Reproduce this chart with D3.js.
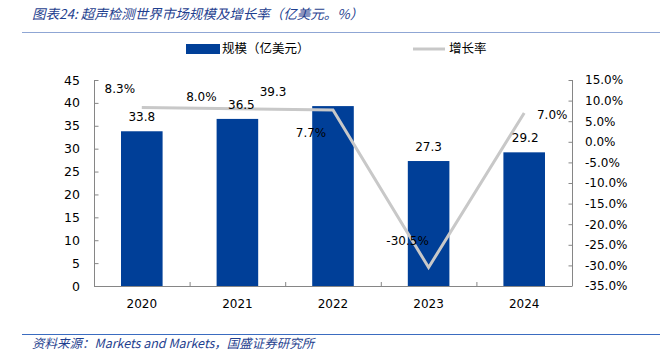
<!DOCTYPE html>
<html><head><meta charset="utf-8">
<script src="https://cdn.jsdelivr.net/npm/d3@7"></script>
<style>body{margin:0;background:#fff}svg{display:block}</style>
</head><body>
<svg id="c" width="660" height="357"></svg>
<script>
const years = ["2020","2021","2022","2023","2024"];
const scale = [33.8, 36.5, 39.3, 27.3, 29.2];
const growth = [8.3, 8.0, 7.7, -30.5, 7.0];
const leftTicks = [0,5,10,15,20,25,30,35,40,45];
const rightTicks = [15,10,5,0,-5,-10,-15,-20,-25,-30,-35];
const seriesNames = ["规模（亿美元）","增长率"];
const title = "图表24:  超声检测世界市场规模及增长率（亿美元。%）";
const source = "资料来源：Markets and Markets，国盛证券研究所";

(function(){
const svg = d3.select("#c");
const font = "'DejaVu Sans', Verdana, sans-serif";
const cjk = "'Noto Sans CJK SC', sans-serif";
const fs = 12;
const pL = 94, pR = 572, pT = 80, pB = 286;
const fmt1 = d3.formatLocale({decimal:".", thousands:",", grouping:[3], currency:["",""], minus:"-"}).format(".1f");

const x = d3.scaleBand().domain(years).range([pL, pR]);
const yL = d3.scaleLinear().domain([0,45]).range([pB, pT]);
const yR = d3.scaleLinear().domain([-35,15]).range([pB, pT]);

// title
svg.append("text").attr("x",32).attr("y",19).attr("font-family",cjk).attr("font-style","italic")
  .attr("font-size",13.5).attr("fill","#1f3f8f").text(title);
svg.append("line").attr("x1",22).attr("x2",660).attr("y1",32.5).attr("y2",32.5).attr("stroke","#8fa6d4").attr("stroke-width",1.2);
svg.append("line").attr("x1",22).attr("x2",660).attr("y1",334.5).attr("y2",334.5).attr("stroke","#3b6cc0").attr("stroke-width",1.2);
svg.append("text").attr("x",32).attr("y",348).attr("font-family",cjk).attr("font-style","italic")
  .attr("font-size",12.5).attr("fill","#1f3f8f").text(source);

// legend
svg.append("rect").attr("x",186).attr("y",44).attr("width",34).attr("height",10).attr("fill","#003f98");
svg.append("text").attr("x",222).attr("y",53).attr("font-family",cjk).attr("font-size",12.5).attr("fill","#000").text(seriesNames[0]);
svg.append("line").attr("x1",413).attr("x2",445).attr("y1",49).attr("y2",49).attr("stroke","#c8c8c8").attr("stroke-width",3);
svg.append("text").attr("x",449).attr("y",53).attr("font-family",cjk).attr("font-size",12.5).attr("fill","#000").text(seriesNames[1]);

// axes
const axL = svg.append("g").attr("transform",`translate(${pL+0.5},0)`)
  .call(d3.axisRight(yL).tickValues(leftTicks).tickSize(4).tickFormat(""));
const axR = svg.append("g").attr("transform",`translate(${pR+0.5},0)`)
  .call(d3.axisLeft(yR).tickValues(rightTicks).tickSize(4).tickFormat(""));
[axL, axR].forEach(a => { a.selectAll("path,line").attr("stroke","#868686"); a.select(".domain").remove();
  a.append("line").attr("x1",0).attr("x2",0).attr("y1",pT).attr("y2",pB).attr("stroke","#868686"); });

svg.append("g").selectAll("text").data(leftTicks).join("text")
  .attr("x",pL-14).attr("y",d=>yL(d)).attr("dy","0.36em").attr("text-anchor","end")
  .attr("font-family",font).attr("font-size",fs+0.5).attr("fill","#000").text(d=>d);
svg.append("g").selectAll("text").data(rightTicks).join("text")
  .attr("x",pR+13).attr("y",d=>yR(d)).attr("dy","0.36em").attr("text-anchor","start")
  .attr("font-family",font).attr("font-size",fs).attr("fill","#000").text(d=>fmt1(d)+"%");

// bottom axis: baseline + ticks at band boundaries
svg.append("line").attr("x1",pL).attr("x2",pR).attr("y1",pB+0.5).attr("y2",pB+0.5).attr("stroke","#868686");
const bounds = years.map(y=>x(y)).concat([pR]);
svg.append("g").selectAll("line").data(bounds).join("line")
  .attr("x1",d=>d+0.5).attr("x2",d=>d+0.5).attr("y1",pB).attr("y2",pB-4).attr("stroke","#868686");
svg.append("g").selectAll("text").data(years).join("text")
  .attr("x",d=>x(d)+x.bandwidth()/2).attr("y",pB+22).attr("text-anchor","middle")
  .attr("font-family",font).attr("font-size",fs).attr("fill","#000").text(d=>d);

// bars
const bw = x.bandwidth()*0.435;
svg.append("g").selectAll("rect").data(years).join("rect")
  .attr("x",(d)=>x(d)+x.bandwidth()/2-bw/2).attr("width",bw)
  .attr("y",(d,i)=>yL(scale[i])).attr("height",(d,i)=>pB-yL(scale[i]))
  .attr("fill","#003f98");

// line
const line = d3.line().x((d,i)=>x(years[i])+x.bandwidth()/2).y(d=>yR(d));
svg.append("path").datum(growth).attr("d",line).attr("fill","none").attr("stroke","#c8c8c8").attr("stroke-width",3);

// bar labels
const barLabelDx = [0, 4, -60, 0, 1];
const barLabelDy = [-10, -10, -10, -10, -10];
svg.append("g").selectAll("text").data(years).join("text")
  .attr("x",(d,i)=>x(d)+x.bandwidth()/2+barLabelDx[i]).attr("y",(d,i)=>yL(scale[i])+barLabelDy[i])
  .attr("text-anchor","middle").attr("font-family",font).attr("font-size",fs).attr("fill","#000")
  .text((d,i)=>fmt1(scale[i]));

// growth labels
const gDx = [-22, -36, -22, -21, 28];
const gDy = [-15, -8, 27, -22, 6];
svg.append("g").selectAll("text").data(years).join("text")
  .attr("x",(d,i)=>x(d)+x.bandwidth()/2+gDx[i]).attr("y",(d,i)=>yR(growth[i])+gDy[i])
  .attr("text-anchor","middle").attr("font-family",font).attr("font-size",fs).attr("fill","#000")
  .text((d,i)=>fmt1(growth[i])+"%");
})();
</script>
</body></html>
